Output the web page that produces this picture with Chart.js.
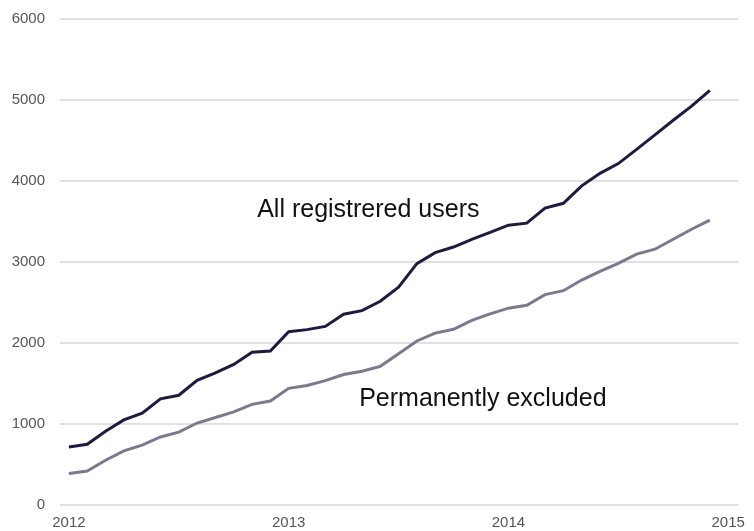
<!DOCTYPE html>
<html>
<head>
<meta charset="utf-8">
<script src="https://cdn.jsdelivr.net/npm/chart.js@4/dist/chart.umd.min.js"></script>
<style>
  body { margin: 0; background: #fff; }
  canvas { display: block; }
</style>
</head>
<body>
<canvas id="usersChart" width="754" height="531"></canvas>
<script>
// ----- Data -----
const months = [
  "2012-01", "2012-02", "2012-03", "2012-04", "2012-05", "2012-06",
  "2012-07", "2012-08", "2012-09", "2012-10", "2012-11", "2012-12",
  "2013-01", "2013-02", "2013-03", "2013-04", "2013-05", "2013-06",
  "2013-07", "2013-08", "2013-09", "2013-10", "2013-11", "2013-12",
  "2014-01", "2014-02", "2014-03", "2014-04", "2014-05", "2014-06",
  "2014-07", "2014-08", "2014-09", "2014-10", "2014-11", "2014-12"
];
const allUsers = [
  715, 750, 910, 1050, 1135, 1310, 1355, 1540, 1630, 1735, 1885, 1900,
  2140, 2165, 2205, 2355, 2400, 2515, 2690, 2980, 3115, 3185, 3280, 3365,
  3455, 3480, 3665, 3725, 3940, 4095, 4215, 4390, 4570, 4750, 4925, 5120
];
const excluded = [
  390, 420, 553, 668, 740, 840, 900, 1012, 1080, 1150, 1242, 1283,
  1440, 1476, 1535, 1611, 1652, 1712, 1866, 2025, 2122, 2170, 2280, 2360,
  2430, 2465, 2597, 2646, 2777, 2883, 2982, 3097, 3158, 3281, 3404, 3518
];
const yearTicks = ["2012", "2013", "2014", "2015"];
const yTicks = [0, 1000, 2000, 3000, 4000, 5000, 6000];

// month string -> months since Jan 2012
function monthIndex(m) {
  const [y, mo] = m.split("-").map(Number);
  return (y - 2012) * 12 + (mo - 1);
}

function toPoints(values) {
  return values.map((v, i) => ({ x: monthIndex(months[i]), y: v }));
}

// ----- Inline series labels -----
const seriesLabels = {
  id: "seriesLabels",
  afterDatasetsDraw(chart) {
    const { ctx, scales } = chart;
    const items = [
      { text: "All registrered users", x: 10.28, y: 3555 },
      { text: "Permanently excluded", x: 15.85, y: 1222 }
    ];
    ctx.save();
    ctx.font = '25px "Liberation Sans", Arial, sans-serif';
    ctx.fillStyle = "#111";
    ctx.textAlign = "left";
    ctx.textBaseline = "alphabetic";
    items.forEach(it => {
      ctx.fillText(it.text, scales.x.getPixelForValue(it.x), scales.y.getPixelForValue(it.y));
    });
    ctx.restore();
  }
};

// ----- Chart -----
document.addEventListener("DOMContentLoaded", () => {
  const ctx = document.getElementById("usersChart").getContext("2d");
  new Chart(ctx, {
    type: "line",
    data: {
      datasets: [
        {
          label: "All registrered users",
          data: toPoints(allUsers),
          borderColor: "#1d1b40",
          borderWidth: 3,
          pointRadius: 0,
          tension: 0,
          fill: false
        },
        {
          label: "Permanently excluded",
          data: toPoints(excluded),
          borderColor: "#7c798f",
          borderWidth: 3,
          pointRadius: 0,
          tension: 0,
          fill: false
        }
      ]
    },
    options: {
      responsive: false,
      animation: false,
      layout: { padding: { top: 19, right: 9, left: 0, bottom: 0 } },
      plugins: {
        legend: { display: false },
        tooltip: { enabled: false }
      },
      scales: {
        x: {
          type: "linear",
          min: -0.487,
          max: 36.56,
          afterBuildTicks: scale => {
            scale.ticks = yearTicks.map((t, i) => ({ value: i * 12 }));
          },
          afterFit: scale => { scale.height = 26; },
          grid: { display: false, drawTicks: false },
          border: { display: false },
          ticks: {
            color: "#555",
            padding: 9,
            maxRotation: 0,
            font: { family: '"Liberation Sans", Arial, sans-serif', size: 15 },
            callback: v => yearTicks[v / 12]
          }
        },
        y: {
          min: 0,
          max: 6000,
          afterBuildTicks: scale => {
            scale.ticks = yTicks.map(v => ({ value: v }));
          },
          afterFit: scale => {
            scale.width = 60;
            scale.paddingTop = 0;
            scale.paddingBottom = 0;
          },
          grid: { color: "#e0e0e0", lineWidth: 2, drawTicks: false },
          border: { display: false },
          ticks: {
            color: "#555",
            padding: 15,
            font: { family: '"Liberation Sans", Arial, sans-serif', size: 15 },
            callback: v => String(v)
          }
        }
      }
    },
    plugins: [seriesLabels]
  });
});
</script>
</body>
</html>
